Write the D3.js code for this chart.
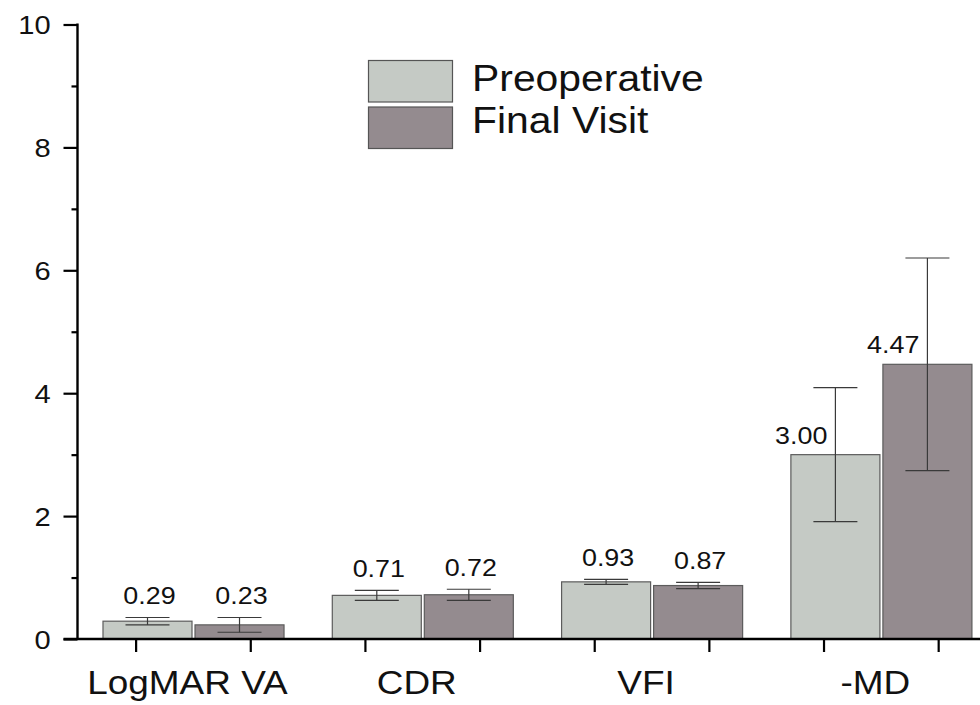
<!DOCTYPE html>
<html><head><meta charset="utf-8">
<script src="https://cdn.jsdelivr.net/npm/d3@7"></script>
<style>body{margin:0;background:#fff}svg{display:block}</style>
</head><body><svg id="c" width="980" height="705"></svg>
<script>
const categories = ["LogMAR VA", "CDR", "VFI", "-MD"];
const seriesNames = ["Preoperative", "Final Visit"];
const preValues = [0.29, 0.71, 0.93, 3.00];
const finalValues = [0.23, 0.72, 0.87, 4.47];
const preErrors = [0.06, 0.08, 0.04, 1.09];
const finalErrors = [0.12, 0.09, 0.05, 1.73];
const yTicks = [0, 2, 4, 6, 8, 10];
const yMinorTicks = [1, 3, 5, 7, 9];

const colors = {"Preoperative": "#c5cac5", "Final Visit": "#948b8f"};
const FONT = "'Liberation Sans', Arial, sans-serif";
const SX = 1.12;

const svg = d3.select("#c");
const y = d3.scaleLinear().domain([0, 10]).range([639, 24.5]);
const x = d3.scaleBand().domain(categories).range([78.8, 996]);
const xs = d3.scaleBand().domain(seriesNames)
  .range([x.step() * 0.1055, x.step() * 0.895]).paddingInner(0.0326);
const slots = [];
categories.forEach(c => seriesNames.forEach(s => slots.push(c + "|" + s)));
const xSlot = d3.scaleBand().domain(slots).range(x.range());

const rows = [];
categories.forEach((c, i) => {
  rows.push({cat: c, series: seriesNames[0], v: preValues[i], e: preErrors[i]});
  rows.push({cat: c, series: seriesNames[1], v: finalValues[i], e: finalErrors[i]});
});

function stext(g, x0, y0, txt, size, anchor) {
  return g.append("text")
    .attr("transform", `translate(${x0},${y0}) scale(${SX},1)`)
    .attr("text-anchor", anchor || "middle")
    .attr("font-family", FONT).attr("font-size", size).attr("fill", "#111")
    .text(txt);
}

// bars
svg.append("g").selectAll("rect").data(rows).join("rect")
  .attr("x", d => x(d.cat) + xs(d.series))
  .attr("y", d => y(d.v))
  .attr("width", xs.bandwidth())
  .attr("height", d => y(0) - y(d.v))
  .attr("fill", d => colors[d.series])
  .attr("stroke", "#5c5c5c").attr("stroke-width", 1.2);

// error bars
const eg = svg.append("g").attr("stroke", "#3a3a3a").attr("stroke-width", 1.2);
rows.forEach(d => {
  const cx = x(d.cat) + xs(d.series) + xs.bandwidth() / 2;
  const cap = 22;
  eg.append("line").attr("x1", cx).attr("x2", cx).attr("y1", y(d.v + d.e)).attr("y2", y(d.v - d.e));
  eg.append("line").attr("x1", cx - cap).attr("x2", cx + cap).attr("y1", y(d.v + d.e)).attr("y2", y(d.v + d.e));
  eg.append("line").attr("x1", cx - cap).attr("x2", cx + cap).attr("y1", y(d.v - d.e)).attr("y2", y(d.v - d.e));
});

// value labels
const lg = svg.append("g");
rows.forEach(d => {
  const cx = x(d.cat) + xs(d.series) + xs.bandwidth() / 2;
  if (d.e > 0.5) {
    stext(lg, cx - 8, y(d.v) - 11, d3.format(".2f")(d.v), 24, "end");
  } else {
    stext(lg, cx + 2, y(d.v + d.e) - 13, d3.format(".2f")(d.v), 24, "middle");
  }
});

// y axis
const yAxis = svg.append("g").attr("transform", "translate(77.5,0)")
  .call(d3.axisLeft(y).tickValues(yTicks).tickSize(14).tickPadding(10).tickSizeOuter(0));
yAxis.select(".domain").remove();
yAxis.selectAll(".tick line").attr("stroke", "#000").attr("stroke-width", 2.2);
yAxis.selectAll(".tick text").attr("font-family", FONT).attr("font-size", 26).attr("fill", "#111")
  .attr("transform", `scale(${SX},1)`).attr("dy", "0.35em");
const yMinor = svg.append("g").attr("transform", "translate(77.5,0)")
  .call(d3.axisLeft(y).tickValues(yMinorTicks).tickSize(6).tickFormat(""));
yMinor.select(".domain").remove();
yMinor.selectAll(".tick line").attr("stroke", "#000").attr("stroke-width", 2.2);
svg.append("line").attr("x1", 77.5).attr("x2", 77.5).attr("y1", y(10) - 1).attr("y2", y(0) + 1)
  .attr("stroke", "#000").attr("stroke-width", 2.4);

// x axis
const xAxis = svg.append("g").attr("transform", `translate(0,${y(0)})`)
  .call(d3.axisBottom(xSlot).tickSize(13).tickFormat("").tickSizeOuter(0));
xAxis.select(".domain").remove();
xAxis.selectAll(".tick line").attr("stroke", "#000").attr("stroke-width", 2.2);
svg.append("line").attr("x1", 63.5).attr("x2", 980).attr("y1", y(0)).attr("y2", y(0))
  .attr("stroke", "#000").attr("stroke-width", 2.4);

// category labels
const cg = svg.append("g");
categories.forEach(c => stext(cg, x(c) + x.step() / 2 - 6, 694, c, 33, "middle"));

// legend
const leg = svg.append("g");
seriesNames.forEach((s, i) => {
  leg.append("rect").attr("x", 368.5).attr("y", 60.5 + i * 46.5).attr("width", 84).attr("height", 41.5)
    .attr("fill", colors[s]).attr("stroke", "#555").attr("stroke-width", 1.2);
  stext(leg, 472, 91 + i * 42, s, 36.5, "start");
});
</script></body></html>
